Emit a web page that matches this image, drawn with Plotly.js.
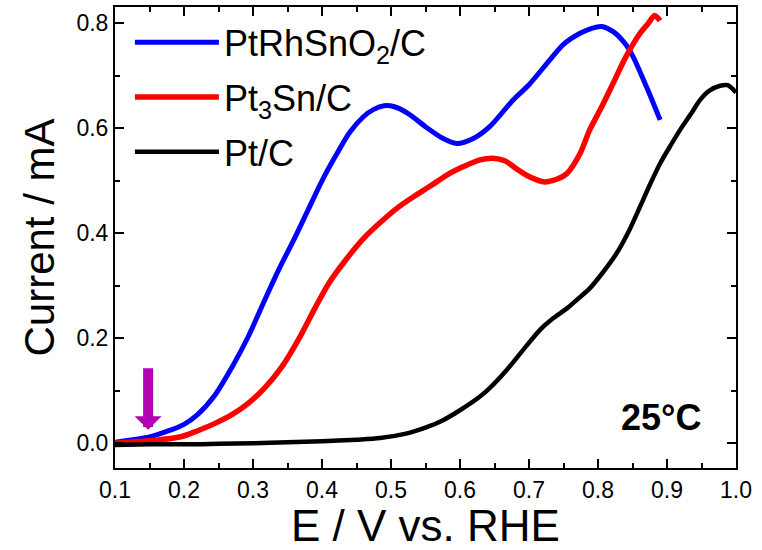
<!DOCTYPE html>
<html>
<head>
<meta charset="utf-8">
<script src="https://cdn.plot.ly/plotly-3.0.1.min.js"></script>
<style>
  html, body { margin: 0; padding: 0; background: #ffffff; }
  #chart { width: 762px; height: 550px; }
</style>
</head>
<body>
<div id="chart"></div>
<script>
// ---- Data ----
const seriesNames = ["PtRhSnO<sub>2</sub>/C", "Pt<sub>3</sub>Sn/C", "Pt/C"];
const seriesColors = ["#0000ff", "#ff0000", "#000000"];

const E_PtRhSnO2 = [0.10, 0.12, 0.15, 0.18, 0.20, 0.22, 0.245, 0.27, 0.293, 0.317, 0.337, 0.36, 0.38, 0.40, 0.42, 0.44, 0.46, 0.475, 0.49, 0.505, 0.525, 0.55, 0.575, 0.595, 0.62, 0.643, 0.677, 0.70, 0.73, 0.75, 0.774, 0.79, 0.805, 0.822, 0.84, 0.851, 0.866, 0.878, 0.89];
const I_PtRhSnO2 = [0.002, 0.006, 0.012, 0.025, 0.036, 0.055, 0.092, 0.146, 0.203, 0.273, 0.33, 0.39, 0.445, 0.50, 0.548, 0.592, 0.622, 0.636, 0.643, 0.641, 0.628, 0.603, 0.581, 0.571, 0.581, 0.603, 0.654, 0.683, 0.730, 0.76, 0.781, 0.79, 0.794, 0.784, 0.76, 0.736, 0.692, 0.655, 0.616];

const E_Pt3Sn = [0.10, 0.13, 0.16, 0.197, 0.22, 0.245, 0.27, 0.293, 0.318, 0.342, 0.366, 0.39, 0.41, 0.436, 0.46, 0.484, 0.508, 0.532, 0.557, 0.581, 0.605, 0.629, 0.648, 0.665, 0.685, 0.70, 0.721, 0.74, 0.755, 0.774, 0.788, 0.805, 0.822, 0.84, 0.861, 0.873, 0.882, 0.89];
const I_Pt3Sn = [0.0, 0.003, 0.006, 0.013, 0.024, 0.038, 0.055, 0.076, 0.107, 0.146, 0.198, 0.258, 0.305, 0.352, 0.39, 0.42, 0.447, 0.469, 0.49, 0.511, 0.527, 0.540, 0.543, 0.538, 0.52, 0.508, 0.498, 0.503, 0.514, 0.552, 0.597, 0.64, 0.686, 0.735, 0.781, 0.80, 0.815, 0.805];

const E_Pt = [0.10, 0.15, 0.20, 0.25, 0.30, 0.35, 0.40, 0.45, 0.484, 0.52, 0.55, 0.571, 0.60, 0.629, 0.643, 0.668, 0.691, 0.716, 0.735, 0.755, 0.77, 0.788, 0.805, 0.827, 0.845, 0.861, 0.875, 0.89, 0.905, 0.919, 0.935, 0.948, 0.962, 0.977, 0.988, 1.0];
const I_Pt = [-0.003, -0.002, -0.002, -0.001, 0.0, 0.002, 0.004, 0.007, 0.010, 0.018, 0.03, 0.041, 0.063, 0.089, 0.105, 0.14, 0.177, 0.216, 0.238, 0.257, 0.274, 0.295, 0.322, 0.362, 0.405, 0.451, 0.492, 0.533, 0.567, 0.597, 0.628, 0.654, 0.672, 0.681, 0.682, 0.668];

const xTickVals = [0.1, 0.2, 0.3, 0.4, 0.5, 0.6, 0.7, 0.8, 0.9, 1.0];
const yTickVals = [0.0, 0.2, 0.4, 0.6, 0.8];
const xTitle = "E / V vs. RHE";
const yTitle = "Current / mA";
const tempLabel = "25°C";
const arrowE = 0.148, arrowTipI = 0.026, arrowTailI = 0.146;

const FONT = "Arial, 'Liberation Sans', sans-serif";

const xs = [E_PtRhSnO2, E_Pt3Sn, E_Pt];
const ys = [I_PtRhSnO2, I_Pt3Sn, I_Pt];
const widths = [5, 5.5, 4.5];

const traces = seriesNames.map((n, i) => ({
  type: "scatter",
  mode: "lines",
  name: n,
  x: xs[i],
  y: ys[i],
  legendgroup: "g" + i,
  line: { color: seriesColors[i], width: widths[i], shape: "spline", smoothing: 0.8 },
  hoverinfo: "skip"
}));

const axisCommon = {
  showline: true, linecolor: "#000", linewidth: 2, mirror: "ticks",
  ticks: "inside", ticklen: 9, tickwidth: 2, tickcolor: "#000",
  showgrid: false, zeroline: false,
  tickfont: { family: FONT, size: 23, color: "#000" },
  minor: { ticks: "inside", ticklen: 5, tickwidth: 2, tickcolor: "#000", showgrid: false }
};

const layout = {
  width: 762, height: 550,
  margin: { l: 115, r: 26, t: 7, b: 82 },
  paper_bgcolor: "#fff", plot_bgcolor: "#fff",
  font: { family: FONT, color: "#000" },
  showlegend: true,
  legend: {
    x: 0.024, y: 0.9885, xanchor: "left", yanchor: "top",
    bgcolor: "rgba(0,0,0,0)", borderwidth: 0,
    font: { family: FONT, size: 36, color: "#000" },
    traceorder: "grouped", tracegroupgap: 5,
    itemwidth: 84
  },
  xaxis: Object.assign({}, axisCommon, {
    range: [0.1, 1.0], tickvals: xTickVals, tickformat: ".1f",
    minor: Object.assign({}, axisCommon.minor, { dtick: 0.05, tick0: 0.1 }),
    title: { text: xTitle, font: { family: FONT, size: 44, color: "#000" }, standoff: 7 }
  }),
  yaxis: Object.assign({}, axisCommon, {
    range: [-0.047, 0.831], tickvals: yTickVals, tickformat: ".1f",
    minor: Object.assign({}, axisCommon.minor, { dtick: 0.1, tick0: 0 }),
    title: { text: yTitle, font: { family: FONT, size: 42, color: "#000" }, standoff: 9 }
  }),
  annotations: [
    {
      x: arrowE, y: arrowTipI, ax: arrowE, ay: arrowTailI,
      xref: "x", yref: "y", axref: "x", ayref: "y",
      showarrow: true, arrowhead: 1, arrowsize: 0.45, arrowwidth: 10,
      arrowcolor: "#b400b4", text: ""
    },
    {
      x: 0.8906, y: 0.05, xref: "x", yref: "y",
      text: "<b>" + tempLabel + "</b>", showarrow: false,
      font: { family: FONT, size: 36, color: "#000" }
    }
  ]
};

Plotly.newPlot("chart", traces, layout, { staticPlot: true, displayModeBar: false });
</script>
</body>
</html>
